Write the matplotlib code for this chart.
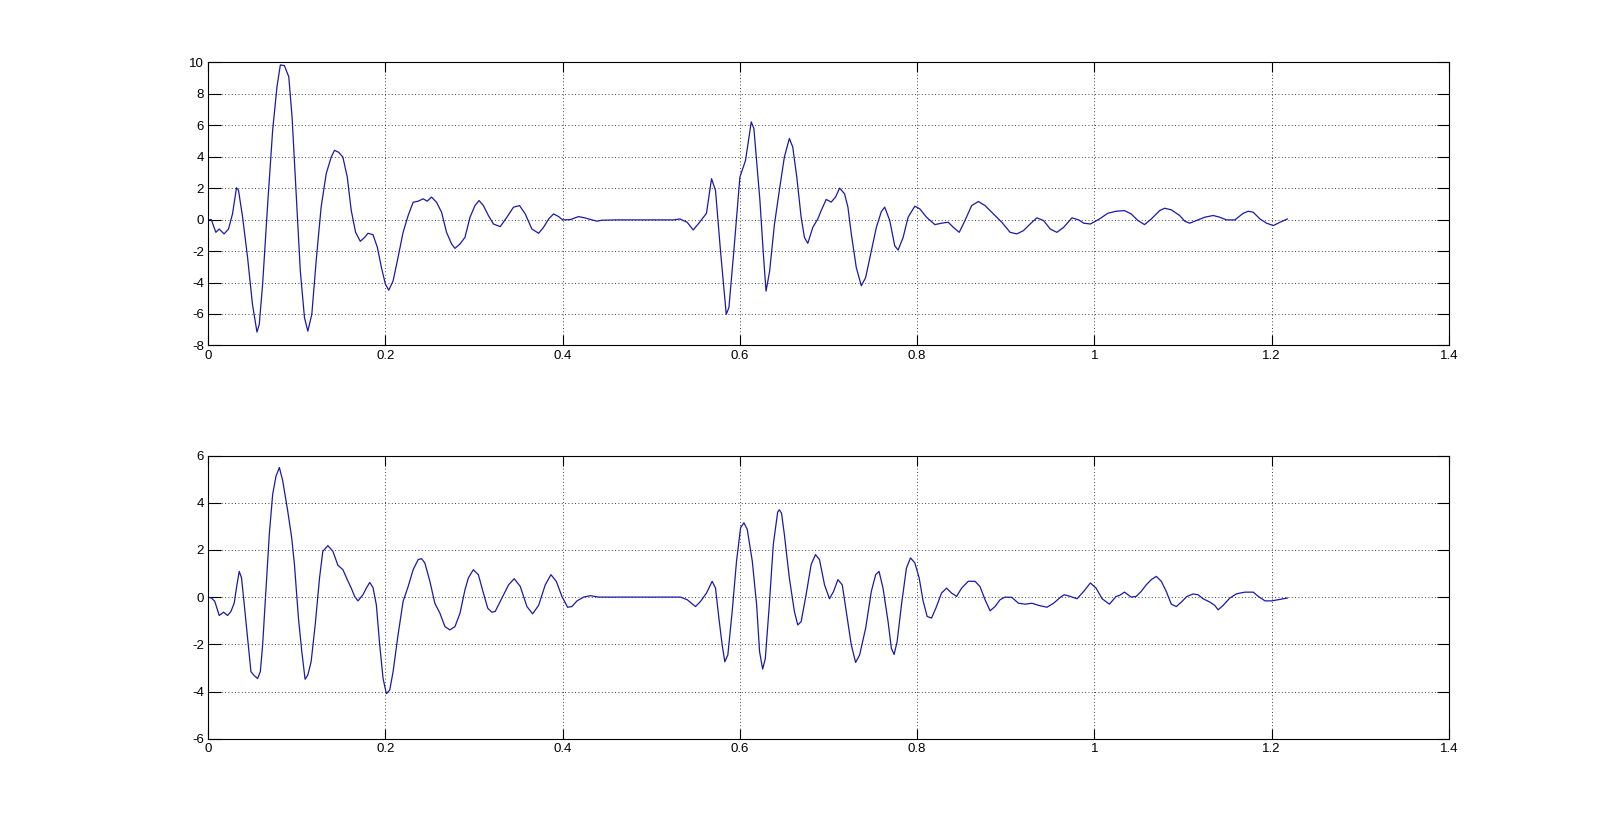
import matplotlib
matplotlib.use('Agg')
import matplotlib.pyplot as plt

# top trace (time, amplitude)
t1 = [0.0, 0.0035, 0.0087, 0.0125, 0.018, 0.023, 0.0275, 0.032, 0.0343, 0.0389,
      0.0445, 0.050, 0.0551, 0.0577, 0.0615, 0.0672, 0.0728, 0.0777, 0.0815, 0.086,
      0.091, 0.0947, 0.0992, 0.104, 0.1087, 0.1125, 0.117, 0.1219, 0.1275, 0.1332,
      0.1389, 0.1426, 0.1472, 0.152, 0.157, 0.1615, 0.1664, 0.1717, 0.1766, 0.1804,
      0.186, 0.191, 0.1955, 0.2, 0.2038, 0.2087, 0.2143, 0.22, 0.2257, 0.2313,
      0.237, 0.2426, 0.2472, 0.2521, 0.2577, 0.2634, 0.269, 0.2747, 0.2785, 0.2842,
      0.2898, 0.2955, 0.3011, 0.3057, 0.3106, 0.3162, 0.3219, 0.3296, 0.3371, 0.3446,
      0.3514, 0.3578, 0.3653, 0.3729, 0.3785, 0.3842, 0.3898, 0.3955, 0.4, 0.4087,
      0.418, 0.4256, 0.433, 0.4388, 0.4444, 0.46, 0.5254, 0.5322, 0.5405, 0.5473,
      0.5537, 0.5623, 0.568, 0.5725, 0.5781, 0.5846, 0.5876, 0.5932, 0.6, 0.6064,
      0.6128, 0.6158, 0.6226, 0.6265, 0.6295, 0.6335, 0.639, 0.6445, 0.6502, 0.6558,
      0.6596, 0.6642, 0.6691, 0.6728, 0.6766, 0.6823, 0.6879, 0.6917, 0.6974, 0.703,
      0.7079, 0.7125, 0.7181, 0.7219, 0.7257, 0.7313, 0.737, 0.7419, 0.7483, 0.754,
      0.7596, 0.7634, 0.7691, 0.7747, 0.7785, 0.7842, 0.7898, 0.7974, 0.803, 0.8106,
      0.82, 0.8275, 0.8351, 0.8408, 0.8475, 0.854, 0.8615, 0.8691, 0.8766, 0.886,
      0.8955, 0.9049, 0.9125, 0.92, 0.9275, 0.9351, 0.9426, 0.9502, 0.9577, 0.9653,
      0.9747, 0.9823, 0.9879, 0.9955, 1.0057, 1.0151, 1.0245, 1.034, 1.0415, 1.0491,
      1.0566, 1.0642, 1.0736, 1.0792, 1.0868, 1.0962, 1.1019, 1.1075, 1.1151, 1.1245,
      1.134, 1.1415, 1.1491, 1.1585, 1.1679, 1.1736, 1.1792, 1.1868, 1.1943, 1.2019,
      1.2094, 1.2177]
y1 = [0.0, 0.0, -0.81, -0.6, -0.91, -0.6, 0.36, 2.02, 1.85, 0.15,
      -2.4, -5.38, -7.15, -6.66, -4.1, 1.0, 5.68, 8.45, 9.83, 9.79,
      9.08, 6.53, 1.85, -3.26, -6.23, -7.09, -6.02, -2.62, 0.79, 2.91,
      3.98, 4.4, 4.28, 3.98, 2.7, 0.57, -0.81, -1.38, -1.13, -0.87,
      -0.96, -1.77, -3.04, -4.1, -4.49, -3.9, -2.4, -0.81, 0.26, 1.1,
      1.17, 1.32, 1.17, 1.43, 1.1, 0.47, -0.81, -1.55, -1.83, -1.55,
      -1.13, 0.15, 0.89, 1.21, 0.89, 0.26, -0.28, -0.45, 0.15, 0.79,
      0.89, 0.36, -0.6, -0.87, -0.49, 0.04, 0.36, 0.19, -0.02, 0.0,
      0.19, 0.1, -0.02, -0.1, -0.04, -0.02, -0.02, 0.04, -0.17, -0.66,
      -0.23, 0.4, 2.6, 1.85, -1.98, -6.02, -5.6, -1.98, 2.7, 3.77,
      6.21, 5.79, 1.21, -2.2, -4.55, -3.3, -0.3, 1.85, 3.98, 5.15,
      4.62, 2.7, 0.15, -1.13, -1.51, -0.49, 0.04, 0.57, 1.28, 1.11,
      1.43, 2.0, 1.64, 0.79, -0.91, -3.04, -4.21, -3.68, -1.98, -0.49,
      0.51, 0.79, -0.06, -1.66, -1.94, -1.13, 0.15, 0.85, 0.68, 0.15,
      -0.32, -0.23, -0.17, -0.49, -0.81, -0.06, 0.89, 1.15, 0.89, 0.36,
      -0.17, -0.81, -0.91, -0.7, -0.28, 0.11, -0.06, -0.6, -0.81, -0.49,
      0.11, -0.02, -0.23, -0.28, 0.04, 0.4, 0.53, 0.57, 0.36, -0.06,
      -0.32, 0.04, 0.57, 0.72, 0.62, 0.26, -0.1, -0.23, -0.06, 0.15,
      0.26, 0.15, -0.02, -0.02, 0.4, 0.53, 0.47, 0.04, -0.23, -0.38,
      -0.17, 0.04]

# bottom trace
t2 = [0.0, 0.0038, 0.0075, 0.0125, 0.0174, 0.0219, 0.0257, 0.0294, 0.0325, 0.0351,
      0.0377, 0.0408, 0.0445, 0.0483, 0.0521, 0.0558, 0.0589, 0.0615, 0.0653, 0.069,
      0.0728, 0.0766, 0.0804, 0.0842, 0.0898, 0.0943, 0.0974, 0.1019, 0.1057, 0.1094,
      0.1125, 0.1162, 0.1208, 0.1257, 0.1294, 0.1351, 0.1408, 0.1464, 0.1521, 0.157,
      0.1615, 0.1653, 0.1691, 0.1747, 0.1785, 0.1823, 0.186, 0.1898, 0.1936, 0.1974,
      0.2011, 0.2049, 0.2087, 0.2143, 0.22, 0.2257, 0.2313, 0.237, 0.2408, 0.2445,
      0.2502, 0.2558, 0.2615, 0.2672, 0.2728, 0.2785, 0.2842, 0.2898, 0.2936, 0.2992,
      0.3049, 0.3106, 0.3155, 0.32, 0.3239, 0.3315, 0.339, 0.3454, 0.3522, 0.3597,
      0.3661, 0.3729, 0.3804, 0.3868, 0.3928, 0.3992, 0.4056, 0.4105, 0.4162, 0.4237,
      0.4313, 0.4407, 0.533, 0.5405, 0.5499, 0.5556, 0.5623, 0.5687, 0.5725, 0.5763,
      0.58, 0.583, 0.5864, 0.5913, 0.5962, 0.6008, 0.6045, 0.6083, 0.614, 0.6189,
      0.6222, 0.6257, 0.6287, 0.6332, 0.6377, 0.6426, 0.6445, 0.647, 0.6502, 0.6558,
      0.6615, 0.6653, 0.6691, 0.6747, 0.6804, 0.6853, 0.6898, 0.6955, 0.7011, 0.7057,
      0.7106, 0.7155, 0.72, 0.7257, 0.7306, 0.7351, 0.7419, 0.7483, 0.7532, 0.757,
      0.7615, 0.7672, 0.7709, 0.774, 0.7774, 0.7823, 0.7879, 0.7925, 0.7974, 0.8023,
      0.8068, 0.8113, 0.8162, 0.8211, 0.8275, 0.8332, 0.8389, 0.8445, 0.8502, 0.8577,
      0.8653, 0.8709, 0.8766, 0.8823, 0.8879, 0.8936, 0.8992, 0.9068, 0.9143, 0.9219,
      0.9294, 0.937, 0.9464, 0.954, 0.9615, 0.966, 0.9728, 0.9804, 0.9879, 0.9955,
      1.0019, 1.0087, 1.017, 1.0245, 1.0283, 1.034, 1.0415, 1.0472, 1.0528, 1.0585,
      1.0642, 1.0698, 1.0755, 1.0811, 1.0868, 1.0925, 1.0981, 1.1045, 1.1113, 1.117,
      1.1226, 1.1302, 1.1358, 1.1396, 1.1453, 1.1528, 1.1604, 1.1698, 1.1792, 1.1849,
      1.1925, 1.2, 1.2075, 1.2177]
y2 = [0.0, -0.04, -0.18, -0.78, -0.64, -0.78, -0.61, -0.26, 0.52, 1.09,
      0.81, -0.33, -1.74, -3.16, -3.33, -3.45, -3.16, -2.03, 0.38, 2.65,
      4.35, 5.13, 5.49, 4.92, 3.65, 2.51, 1.38, -0.89, -2.31, -3.48,
      -3.3, -2.74, -1.18, 0.81, 1.94, 2.18, 1.94, 1.35, 1.16, 0.74,
      0.38, 0.03, -0.16, 0.1, 0.38, 0.62, 0.41, -0.33, -2.03, -3.45,
      -4.09, -3.94, -3.16, -1.6, -0.18, 0.45, 1.16, 1.59, 1.63, 1.45,
      0.67, -0.26, -0.68, -1.25, -1.39, -1.25, -0.68, 0.31, 0.81, 1.16,
      0.95, 0.17, -0.47, -0.64, -0.61, -0.04, 0.52, 0.78, 0.45, -0.4,
      -0.71, -0.35, 0.52, 0.95, 0.67, 0.03, -0.43, -0.4, -0.16, 0.0,
      0.06, 0.0, 0.0, -0.11, -0.4, -0.18, 0.17, 0.67, 0.38, -0.89,
      -2.03, -2.74, -2.45, -0.61, 1.52, 2.94, 3.15, 2.87, 1.52, -0.33,
      -2.31, -3.05, -2.6, -0.33, 2.23, 3.6, 3.7, 3.55, 2.65, 0.81,
      -0.61, -1.18, -1.04, 0.1, 1.38, 1.8, 1.59, 0.52, -0.07, 0.24,
      0.74, 0.52, -0.61, -2.03, -2.77, -2.45, -1.32, 0.24, 0.95, 1.09,
      0.38, -1.04, -2.17, -2.43, -1.89, -0.33, 1.23, 1.66, 1.45, 0.81,
      -0.18, -0.82, -0.89, -0.47, 0.17, 0.38, 0.17, 0.03, 0.38, 0.67,
      0.67, 0.45, -0.11, -0.58, -0.4, -0.11, 0.0, -0.01, -0.26, -0.3,
      -0.26, -0.35, -0.43, -0.26, -0.01, 0.1, 0.03, -0.07, 0.24, 0.6,
      0.38, -0.07, -0.3, 0.03, 0.07, 0.21, 0.0, 0.03, 0.24, 0.52,
      0.74, 0.88, 0.67, 0.24, -0.3, -0.4, -0.21, 0.03, 0.13, 0.1,
      -0.07, -0.21, -0.35, -0.54, -0.35, -0.04, 0.14, 0.21, 0.21, 0.03,
      -0.16, -0.16, -0.11, -0.04]

x_ticks = [0, 0.2, 0.4, 0.6, 0.8, 1.0, 1.2, 1.4]
x_labels = ['0', '0.2', '0.4', '0.6', '0.8', '1', '1.2', '1.4']
top_yticks = [-8, -6, -4, -2, 0, 2, 4, 6, 8, 10]
bottom_yticks = [-6, -4, -2, 0, 2, 4, 6]

plt.rcParams['font.family'] = ['Liberation Sans', 'DejaVu Sans']

fig = plt.figure(figsize=(16.01, 8.30), dpi=100)
fig.patch.set_facecolor('white')

panels = [
    ([0.13, 0.5838, 0.775, 0.3412], t1, y1, top_yticks),
    ([0.13, 0.11, 0.775, 0.3412], t2, y2, bottom_yticks),
]

for pos, t, y, yt in panels:
    ax = fig.add_axes(pos)
    ax.plot(t, y, color='#1a1aa8', lw=0.9)
    ax.set_xlim(0, 1.4)
    ax.set_ylim(yt[0], yt[-1])
    ax.set_xticks(x_ticks)
    ax.set_xticklabels(x_labels)
    ax.set_yticks(yt)
    ax.set_yticklabels([str(v) for v in yt])
    ax.grid(True, color='black', linestyle=(0, (1, 3)), linewidth=0.6)
    ax.tick_params(axis='both', direction='in', top=True, right=True,
                   labelsize=9.5, width=0.8, colors='black')
    ax.tick_params(axis='x', length=7, pad=3)
    ax.tick_params(axis='y', length=9, pad=3)
    for s in ax.spines.values():
        s.set_linewidth(0.8)
        s.set_color('black')

fig.savefig('out.png', dpi=100, facecolor='white')
